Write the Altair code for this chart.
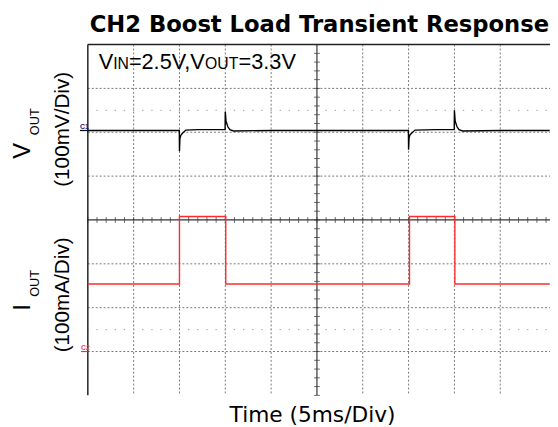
import altair as alt
import pandas as pd

# ---------------- data read from the scope shot ----------------
# time in ms (5 ms/div); VOUT in mV relative to the C1 marker (100 mV/div)
vout_t = [0, 9.98, 10.0, 10.05, 10.15, 10.3, 10.7, 12.0, 14.98, 15.0, 15.08, 15.27, 15.5, 15.9, 20, 25,
          30, 34.98, 35.0, 35.05, 35.15, 35.3, 35.7, 38.0, 39.98, 40.0, 40.08, 40.27, 40.5, 40.9, 45, 50.4]
vout_mv = [4, 4, -43, -14, -7, -3, 5, 6, 6, 47, 25, 13, 6, 3, 4, 4,
           4, 4, -40, -13, -6, -3, 5, 6, 6, 50, 26, 13, 6, 3, 4, 4]
# IOUT in mA relative to the C2 marker (100 mA/div)
iout_t = [0, 10.0, 10.0, 15.05, 15.05, 35.1, 35.1, 40.05, 40.05, 50.4]
iout_ma = [154, 154, 308, 308, 154, 154, 308, 308, 154, 154]

TITLE = "CH2 Boost Load Transient Response"
X_LABEL = "Time (5ms/Div)"
COND_PARTS = ["V", "IN", "=2.5V,V", "OUT", "=3.3V"]
V_LABEL = ["V", "OUT", "(100mV/Div)"]
I_LABEL = ["I", "OUT", "(100mA/Div)"]
MARKERS = ["C1", "C2"]

# ---------------- chart ----------------
W, H = 465, 356
EXT = W + 4  # screen continues to the picture's right edge
xs = alt.Scale(domain=[0, 50], nice=False, zero=False)
ys = alt.Scale(domain=[-4, 4], nice=False, zero=False)

vout = pd.DataFrame({"t": vout_t, "mv": vout_mv, "i": list(range(len(vout_t)))})
iout = pd.DataFrame({"t": iout_t, "ma": iout_ma, "i": list(range(len(iout_t)))})


def X(f="t"):
    return alt.X(f"{f}:Q", scale=xs, axis=None)


def Y(f):
    return alt.Y(f"{f}:Q", scale=ys, axis=None)


def lab(s):
    return pd.DataFrame({"label": [s]})


def fixed(expr_x=None, expr_y=None, label=""):
    c = alt.Chart(lab(label))
    if expr_x is not None:
        c = c.transform_calculate(px=str(expr_x))
    if expr_y is not None:
        c = c.transform_calculate(py=str(expr_y))
    return c


grid_style = dict(color="#777777", strokeWidth=1, strokeDash=[2, 2])

vgrid = (alt.Chart(alt.sequence(5, 50, 5, as_="t"))
         .transform_filter("datum.t != 25").mark_rule(**grid_style).encode(x=X()))
hgrid = (alt.Chart(alt.sequence(-3, 4, 1, as_="d"))
         .transform_filter("datum.d != 0").mark_rule(**grid_style)
         .encode(y=Y("d"), x=alt.value(0), x2=alt.value(EXT)))
dots = (alt.Chart(alt.sequence(-2.5, 3, 5, as_="d"))
        .mark_rule(color="#9a9a9a", strokeWidth=1, strokeDash=[1.3, 8.0], strokeDashOffset=0.65)
        .encode(y=Y("d"), x=alt.value(0), x2=alt.value(EXT)))
cx = fixed(expr_x=25).mark_rule(color="#333", strokeWidth=1.2).encode(x=X("px"))
cy = fixed(expr_y=0).mark_rule(color="#333", strokeWidth=1.2).encode(
    y=Y("py"), x=alt.value(0), x2=alt.value(EXT))
hticks = (alt.Chart(alt.sequence(0, 50.5, 1, as_="t")).transform_calculate(py="0")
          .mark_tick(orient="vertical", size=6, thickness=1, color="#333")
          .encode(x=X(), y=Y("py")))
vticks = (alt.Chart(alt.sequence(-4, 4.1, 0.2, as_="d")).transform_calculate(px="25")
          .mark_tick(orient="horizontal", size=6, thickness=1, color="#333")
          .encode(y=Y("d"), x=X("px")))
top = fixed(expr_y=4).mark_rule(color="#222", strokeWidth=1.5).encode(
    y=Y("py"), x=alt.value(0), x2=alt.value(EXT))
left = fixed(expr_x=0).mark_rule(color="#222", strokeWidth=1.5).encode(x=X("px"))

vline = (alt.Chart(vout).transform_calculate(y="2 + datum.mv / 100")
         .mark_line(color="black", strokeWidth=1.4)
         .encode(x=X(), y=Y("y"), order="i:Q"))
iline = (alt.Chart(iout).transform_calculate(y="-3 + datum.ma / 100")
         .mark_line(color="#ff2b2b", strokeWidth=1.4)
         .encode(x=X(), y=Y("y"), order="i:Q"))

c1_line = fixed(expr_y=2.04).mark_rule(color="black", strokeWidth=1.2).encode(
    x=alt.value(-8), x2=alt.value(0), y=Y("py"))
c1_txt = fixed(expr_y=2.04, label=MARKERS[0]).mark_text(
    align="left", baseline="alphabetic", fontSize=7, fontWeight="bold", color="#1a1a8c",
    font="Liberation Sans", dy=-2).encode(x=alt.value(-8), y=Y("py"), text="label:N")
c2_line = fixed(expr_y=-3).mark_rule(color="#ff2b2b", strokeWidth=1.2).encode(
    x=alt.value(-7), x2=alt.value(0), y=Y("py"))
c2_txt = fixed(expr_y=-3, label=MARKERS[1]).mark_text(
    align="left", baseline="alphabetic", fontSize=7, fontWeight="bold", color="#ff3366",
    font="Liberation Sans", dy=-1.5).encode(x=alt.value(-7), y=Y("py"), text="label:N")

title = alt.Chart(lab(TITLE)).mark_text(
    font="DejaVu Sans", fontSize=23, fontWeight="bold", align="center", baseline="alphabetic",
    color="black").encode(x=alt.value(235), y=alt.value(-13), text="label:N")
xlab = alt.Chart(lab(X_LABEL)).mark_text(
    font="DejaVu Sans", fontSize=22, align="center", baseline="alphabetic",
    color="black").encode(x=alt.value(228), y=alt.value(383), text="label:N")

cond_x = [11, 25.7, 41.7, 119.0, 153.0]
cond_size = [22, 16, 22, 16, 22]
cond_layers = []
for s, xx, fs in zip(COND_PARTS, cond_x, cond_size):
    cond_layers.append(alt.Chart(lab(s)).mark_text(
        font="Liberation Sans", fontSize=fs, align="left", baseline="alphabetic", color="black"
    ).encode(x=alt.value(xx), y=alt.value(25), text="label:N"))

ylab_layers = []
spec = [
    (V_LABEL[0], -59, 116, 24, "left"),
    (V_LABEL[1], -50, 92, 13, "left"),
    (V_LABEL[2], -19, 86, 21, "center"),
    (I_LABEL[0], -59, 270, 24, "left"),
    (I_LABEL[1], -50, 256, 13, "left"),
    (I_LABEL[2], -19, 254, 21, "center"),
]
for s, xx, yy, fs, al in spec:
    ylab_layers.append(alt.Chart(lab(s)).mark_text(
        font="Liberation Sans", fontSize=fs, align=al, baseline="alphabetic", angle=270,
        color="black").encode(x=alt.value(xx), y=alt.value(yy), text="label:N"))

chart = alt.layer(
    vgrid, hgrid, dots, cx, cy, hticks, vticks, top, left,
    iline, vline, c1_line, c1_txt, c2_line, c2_txt,
    title, xlab, *cond_layers, *ylab_layers,
).properties(
    width=W, height=H,
    autosize=alt.AutoSizeParams(type="none"),
    padding={"left": 81, "top": 34, "right": 4, "bottom": 29},
    background="white",
).configure_view(stroke=None)

chart.save("out.html", embed_options={"renderer": "svg", "actions": False})
